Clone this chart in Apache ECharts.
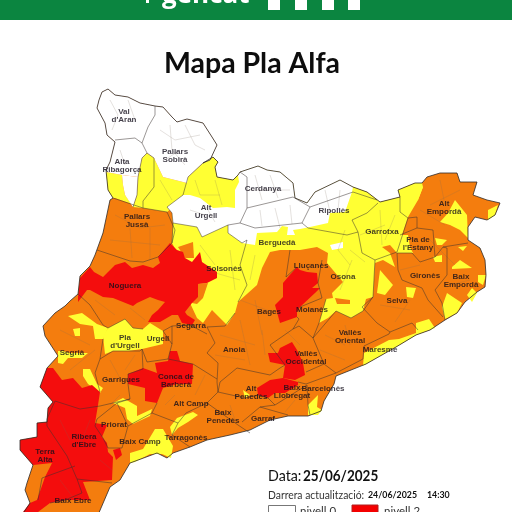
<!DOCTYPE html>
<html><head><meta charset="utf-8">
<style>html,body{margin:0;padding:0;background:#fff}#c{width:512px;height:512px}</style>
<script src="https://cdn.jsdelivr.net/npm/echarts@6/dist/echarts.min.js"></script>
</head><body><div id="c"></div>
<script>
const levelColors=['#ffffff','#ffff33','#f47d0e','#f40d0d'];
const regionNames=['Catalunya','Groc nord','Groc Ribagorça','Groc Pallars','Blanc nord-oest','Blanc Ribagorça','Blanc central','Blanc Osona','Llívia',
 'Groc Garrotxa','Blanc Empordà','Taronja Solsonès','Taronja Cardener','Groc Selva','Taronja Osona'];
const regionLevels=[2,1,1,1,0,0,0,0,0,1,0,2,2,1,2];
const regionShapes=[
 [[97,108],[99,100],[102,92],[108,89],[115,95],[128,97],[140,103],[155,106],[163,107],[172,117],[177,122],[187,119],[203,123],[212,137],[217,145],[210,160],[203,163],[213,157],[218,162],[215,167],[217,177],[233,180],[238,175],[240,172],[258,166],[267,170],[280,172],[293,183],[295,198],[307,203],[315,192],[340,180],[353,187],[367,192],[380,202],[400,197],[398,190],[415,183],[422,183],[427,177],[440,173],[457,173],[460,182],[477,182],[473,195],[487,200],[500,203],[495,215],[487,220],[475,217],[468,227],[468,240],[480,248],[485,260],[486,275],[485,287],[477,292],[465,302],[457,313],[445,320],[430,330],[416,335],[396,347],[366,364],[336,376],[334,384],[324,401],[321,411],[308,416],[288,416],[270,420],[250,430],[230,435],[207,440],[190,447],[173,453],[167,458],[157,453],[130,463],[120,480],[110,487],[98,515],[22,515],[30,503],[25,490],[27,483],[33,465],[20,450],[20,440],[37,437],[37,423],[47,422],[48,408],[53,402],[40,387],[47,368],[58,356],[45,336],[43,326],[55,313],[65,306],[70,301],[78,294],[80,276],[90,266],[95,255],[103,233],[110,200],[113,198],[108,190],[106,170],[110,162],[115,142],[107,135],[105,123]],
 [[172,213],[173,223],[172,243],[180,258],[190,303],[197,318],[203,323],[212,310],[227,325],[235,313],[238,302],[257,285],[262,268],[270,252],[280,250],[300,250],[317,247],[328,253],[327,263],[343,282],[332,293],[333,298],[326,299],[319,323],[328,318],[336,311],[351,318],[363,311],[366,299],[373,297],[375,263],[383,260],[395,267],[390,253],[382,247],[390,245],[397,253],[413,253],[410,247],[408,235],[402,235],[408,217],[418,200],[423,187],[422,183],[415,183],[398,190],[400,197],[380,202],[367,192],[353,187],[340,180],[315,192],[307,203],[295,198],[293,183],[280,172],[267,170],[258,166],[240,172],[238,175],[233,180],[217,177],[215,167],[218,162],[213,157],[203,163],[188,177],[183,195]],
 [[106,172],[122,175],[123,185],[125,195],[132,205],[143,208],[115,198],[113,198],[108,190]],
 [[142,158],[147,153],[154,158],[163,177],[187,183],[186,190],[178,203],[167,212],[143,208],[133,207],[137,195],[138,177]],
 [[97,108],[99,100],[102,92],[108,89],[115,95],[128,97],[140,103],[155,106],[163,107],[172,117],[177,122],[187,119],[203,123],[212,137],[217,145],[210,160],[203,163],[188,177],[187,183],[163,177],[154,158],[147,153],[142,158],[138,177],[122,175],[106,172],[106,170],[110,162],[115,142],[107,135],[105,123]],
 [[122,175],[138,177],[137,195],[133,207],[125,195],[123,185]],
 [[167,207],[183,195],[190,195],[200,198],[213,208],[227,207],[235,208],[235,190],[239,182],[238,175],[240,172],[258,166],[267,170],[280,172],[293,183],[295,198],[307,203],[315,192],[340,180],[353,187],[352,192],[345,212],[330,213],[328,223],[310,227],[300,229],[293,230],[295,235],[287,235],[288,227],[282,226],[277,232],[257,233],[255,245],[242,243],[228,233],[228,225],[202,237],[197,227],[173,223],[172,213]],
 [[330,245],[343,242],[343,248],[332,250]],
 [[294,172],[297,167],[301,172],[303,177],[297,178]],
 [[408,190],[423,187],[418,200],[408,204],[400,197]],
 [[455,216],[460,220],[461,229],[456,226]],
 [[178,247],[193,242],[194,258],[185,258]],
 [[198,284],[208,283],[203,298],[197,304],[192,303]],
 [[380,270],[393,285],[385,295],[377,293]],
 [[335,298],[350,300],[350,304],[337,304]]
];
const yellowNames=['Y Empordà','Y Creus','Y Estany 1','Y Estany 2','Y Empordà 2','Y Baix Empordà','Y Baix Empordà 2','Y Begur','Y Selva costa','Y Gironès','Y Maresme','Y Barcelonès','Y Penedès','Y Tarragonès','Y Baix Camp','Y Priorat','Y Urgell','Y Segrià 1','Y Segrià 2','Y Segrià 3','Y Garrigues'];
const yellowShapes=[
 [[455,200],[467,215],[468,238],[460,230],[450,225],[440,222],[448,213]],
 [[488,210],[498,205],[495,215],[488,220]],
 [[435,238],[447,240],[442,245],[437,245]],
 [[433,257],[442,255],[442,262],[435,262]],
 [[458,247],[467,246],[463,251]],
 [[452,267],[460,260],[472,268],[452,269]],
 [[478,275],[486,275],[483,285],[478,282]],
 [[472,288],[477,293],[472,302],[467,295]],
 [[447,293],[462,303],[457,313],[445,319],[442,307]],
 [[406,287],[416,288],[413,298],[407,297]],
 [[363,366],[364,353],[389,340],[399,339],[416,333],[416,323],[429,319],[435,328],[416,335],[396,347],[366,364]],
 [[308,405],[313,400],[318,395],[317,407],[322,410],[318,415],[308,415]],
 [[243,390],[250,395],[245,398]],
 [[177,418],[193,412],[198,415],[188,422],[178,428],[172,435],[170,427]],
 [[130,463],[130,453],[143,449],[155,429],[163,429],[173,446],[171,458],[162,454],[150,454],[135,462]],
 [[113,403],[123,398],[137,406],[137,416],[152,409],[150,416],[133,424],[127,419],[125,408]],
 [[103,336],[108,328],[125,319],[133,328],[143,329],[150,323],[163,331],[163,344],[142,349],[128,351],[113,351],[105,354]],
 [[68,316],[82,313],[97,324],[108,328],[103,339],[95,339],[93,326],[80,324]],
 [[73,329],[80,328],[80,336],[75,336]],
 [[58,351],[63,351],[70,353],[88,353],[82,358],[68,358],[63,364],[58,363]],
 [[83,369],[90,369],[97,384],[103,388],[100,393],[88,384],[83,376]]
];
const yellowLevels=yellowNames.map(()=>1);
const redNames=['R Noguera','R Sud','R Sud punt','R Conca','R Bages','R Vallès','R Llobregat'];
const redShapes=[
 [[78,297],[80,278],[90,267],[94,272],[103,277],[115,265],[125,262],[132,268],[143,265],[153,268],[160,263],[158,257],[170,243],[177,250],[183,252],[185,258],[192,262],[200,252],[202,262],[217,272],[217,278],[207,283],[198,284],[198,297],[192,303],[185,312],[187,315],[195,320],[192,325],[182,323],[178,315],[172,315],[160,322],[148,322],[152,315],[158,310],[165,302],[158,300],[150,297],[137,303],[133,306],[113,298],[103,297],[90,290],[87,290],[78,302]],
 [[47,368],[53,368],[62,380],[73,378],[82,388],[92,385],[100,392],[98,405],[95,423],[107,425],[102,437],[107,443],[108,452],[113,457],[112,480],[83,482],[90,500],[65,500],[50,503],[38,512],[23,512],[30,503],[37,500],[45,477],[52,463],[33,465],[20,450],[20,440],[37,437],[37,423],[47,422],[48,408],[53,402],[40,387]],
 [[113,450],[120,448],[122,455],[116,460]],
 [[128,374],[143,368],[157,373],[155,363],[168,361],[170,351],[177,351],[180,361],[193,364],[192,384],[177,384],[163,388],[157,403],[145,401],[145,388],[128,384]],
 [[288,277],[297,267],[300,270],[307,272],[317,273],[318,283],[312,288],[320,288],[315,293],[300,307],[297,312],[297,317],[280,323],[275,305],[283,297],[283,283]],
 [[280,348],[292,342],[297,350],[303,363],[305,375],[295,380],[283,378],[285,365],[270,362],[268,353],[278,353]],
 [[257,388],[270,380],[283,378],[298,382],[298,385],[285,393],[275,393],[268,398],[258,395]]
];
const redLevels=redNames.map(()=>3);
const comarcaBorders=[
 [[155,106],[155,115],[148,127],[142,143],[135,138],[115,140]],
 [[142,143],[147,153],[142,158],[138,177],[137,195],[133,207]],
 [[147,153],[154,158],[154,187],[143,201],[143,208]],
 [[203,163],[188,177],[183,195],[167,207],[172,213],[173,223],[172,243]],
 [[113,198],[143,208],[167,212],[175,230],[172,243],[158,257],[143,262],[130,261],[103,252],[97,250]],
 [[173,223],[197,227],[202,237],[228,225],[228,233],[242,243],[247,240]],
 [[240,172],[247,177],[247,208],[240,223],[228,225]],
 [[247,208],[293,197],[310,207],[302,223],[255,228],[240,223]],
 [[310,207],[353,192],[377,200]],
 [[302,223],[308,228],[347,235],[358,232],[352,220],[367,213],[378,203]],
 [[400,212],[408,218],[397,252],[375,260],[362,253],[358,232]],
 [[400,197],[400,212]],
 [[408,218],[417,217],[417,228],[433,230],[435,257],[443,247],[468,243]],
 [[400,235],[417,228]],
 [[435,257],[420,262],[412,253],[397,253],[398,270],[402,280],[422,288],[428,300],[443,317]],
 [[443,247],[447,248],[447,275],[435,290],[442,303],[445,320]],
 [[375,260],[373,297],[362,307],[377,323],[390,332],[412,323],[418,330]],
 [[313,338],[336,311],[351,318],[363,311],[373,297]],
 [[390,332],[389,334],[364,346],[363,359],[336,373],[324,364],[313,338]],
 [[313,338],[299,326],[293,329],[299,319],[297,317]],
 [[336,373],[306,384],[298,382]],
 [[324,364],[306,372]],
 [[326,299],[319,323],[313,338]],
 [[247,240],[240,265],[247,285],[238,302]],
 [[290,250],[286,277],[297,267]],
 [[322,260],[318,283],[322,298],[300,307]],
 [[207,327],[215,343],[207,353],[218,363],[217,382],[218,392],[207,403]],
 [[218,392],[220,382],[237,368],[270,375],[280,368],[285,365],[270,345],[293,329]],
 [[207,327],[225,326],[235,313]],
 [[207,403],[238,425],[250,433]],
 [[242,422],[260,407],[288,415]],
 [[260,407],[275,405],[268,398],[258,395],[245,398],[218,392]],
 [[275,405],[307,385],[308,405],[310,415]],
 [[78,294],[90,305],[103,325],[108,328],[125,319],[133,328],[143,329]],
 [[103,339],[100,359],[95,373],[100,392]],
 [[100,359],[113,351],[140,351],[142,349],[143,369]],
 [[143,369],[128,374],[128,384],[130,399],[100,406]],
 [[142,349],[147,362],[168,359],[172,344],[163,331],[172,326],[190,325],[207,334]],
 [[168,359],[193,364],[217,379]],
 [[172,326],[172,344]],
 [[157,403],[152,413],[178,423],[186,413],[207,403]],
 [[178,423],[172,435],[190,447]],
 [[130,399],[117,403],[97,419],[95,426],[103,438],[108,448],[122,448],[128,426],[117,403]],
 [[128,426],[152,413]],
 [[47,419],[55,401],[80,409],[100,406]],
 [[47,426],[67,456],[77,479],[112,483]],
 [[47,426],[47,419]],
 [[75,466],[42,478],[38,500]],
 [[77,479],[82,493],[65,500],[50,503]]
];
const municipalBorders=[
 [[110,100],[118,115],[112,130]],[[128,100],[135,120]],[[170,125],[172,150],[185,165]],[[185,125],[195,145],[205,150]],[[160,130],[175,140],[200,135]],[[180,150],[165,160]],
 [[120,150],[125,165]],[[160,180],[172,200]],[[195,180],[200,195],[220,195]],[[215,180],[222,205]],[[205,205],[215,222]],[[190,210],[205,215]],
 [[255,175],[262,200]],[[270,175],[278,198]],[[248,190],[290,190]],[[260,210],[262,226]],[[275,208],[280,228]],[[290,205],[292,224]],[[325,190],[330,212]],[[340,190],[338,210]],
 [[200,245],[215,265]],[[230,250],[235,290]],[[205,270],[240,280]],[[255,255],[250,280]],[[345,230],[338,250],[350,265]],[[350,250],[365,262]],[[360,235],[385,225]],[[380,210],[382,245]],[[395,215],[385,240]],[[340,290],[352,260]],
 [[115,215],[140,228],[165,225]],[[130,228],[132,258]],[[150,228],[150,260]],[[110,240],[160,245]],
 [[95,300],[115,315]],[[130,308],[145,320]],[[60,330],[90,345]],[[70,370],[95,350]],[[110,360],[120,378]],[[135,355],[125,370]],
 [[220,335],[255,345]],[[240,320],[250,365]],[[262,330],[265,355]],[[215,355],[245,360]],[[255,300],[262,335]],[[240,300],[280,315]],[[285,330],[300,345]],
 [[325,335],[345,345]],[[345,325],[350,345]],[[320,350],[345,360]],[[400,270],[420,265]],[[430,240],[455,265]],[[440,180],[445,205]],[[460,190],[430,205]],[[420,210],[445,225]],[[450,285],[470,280]],[[410,300],[395,322]],[[380,305],[410,310]],
 [[60,480],[75,500]],[[90,420],[80,445]],[[60,420],[70,440]],[[110,405],[120,395]],[[165,405],[175,395]],[[195,395],[205,375]],[[230,405],[235,420]],[[295,400],[285,412]],[[100,460],[112,470]]
];
const labelNames=["Val\nd'Aran","Pallars\nSobirà","Alta\nRibagorça","Cerdanya","Alt\nUrgell","Pallars\nJussà","Ripollès","Berguedà","Garrotxa","Pla de\nl'Estany","Alt\nEmpordà","Noguera","Solsonès","Lluçanès","Osona","Gironès","Baix\nEmpordà","Selva","Bages","Moianès","Segarra","Pla\nd'Urgell","Urgell","Segrià","Anoia","Vallès\nOriental","Maresme","Vallès\nOccidental","Garrigues","Conca de\nBarberà","Alt Camp","Alt\nPenedès","Baix\nLlobregat","Barcelonès","Baix\nPenedès","Priorat","Baix Camp","Tarragonès","Garraf","Ribera\nd'Ebre","Terra\nAlta","Baix Ebre"];
const labelPoints=[[124,116],[175,156],[122,166],[263,189],[206,212],[137,221],[334,211],[277,243],[382,232],[418,244],[444,208],[125,286],[224,269],[311,266],[343,277],[425,276],[461,281],[397,301],[269,312],[312,310],[191,326],[125,342],[158,339],[72,353],[234,350],[350,337],[380,350],[306,358],[121,380],[176,381],[191,404],[251,393],[292,392],[323,389],[223,417],[114,425],[140,442],[186,438],[263,419],[84,441],[45,456],[73,501]];

const allNames=[...regionNames,...yellowNames,...redNames];
const allLevels=[...regionLevels,...yellowLevels,...redLevels];
const allShapes=[...regionShapes,...yellowShapes,...redShapes];
const geoJson={type:'FeatureCollection',features:allNames.map((n,i)=>({type:'Feature',properties:{name:n},geometry:{type:'Polygon',coordinates:[allShapes[i]]}}))};
echarts.registerMap('cat',geoJson);
const identity=p=>[p[0],p[1]];
const chart=echarts.init(document.getElementById('c'),null,{renderer:'canvas',width:512,height:512});
const outline=regionShapes[0].concat([regionShapes[0][0]]);
const font='"Liberation Sans",Arial,sans-serif', lato='Lato,"Open Sans",sans-serif';
const txt=(x,y,t,size,weight,sx,fill)=>({type:'text',x,y,scaleX:sx||1,silent:true,style:{text:t,fontSize:size,fontWeight:weight,fontFamily:lato,fill:fill||'#111',textVerticalAlign:'middle'}});
const rect=(x,y,w,h,fill,stroke)=>({type:'rect',silent:true,shape:{x,y,width:w,height:h},style:{fill,stroke:stroke||null,lineWidth:stroke?1:0}});
chart.setOption({
 animation:false,backgroundColor:'#fff',
 geo:{map:'cat',silent:true,roam:false,projection:{project:identity,unproject:identity},boundingCoords:[[0,0],[512,512]],layoutCenter:['50%','50%'],layoutSize:512,
  itemStyle:{borderWidth:0,borderColor:'transparent',areaColor:'#f47d0e'},label:{show:false},emphasis:{disabled:true}},
 visualMap:{show:false,type:'piecewise',seriesIndex:0,pieces:levelColors.map((c,i)=>({value:i,color:c}))},
 series:[
  {type:'map',geoIndex:0,silent:true,data:allNames.map((n,i)=>({name:n,value:allLevels[i]}))},
  {type:'lines',coordinateSystem:'geo',polyline:true,silent:true,z:3,lineStyle:{color:'#7a6a5a',width:.5,opacity:.4,curveness:0},data:municipalBorders.map(c=>({coords:c}))},
  {type:'lines',coordinateSystem:'geo',polyline:true,silent:true,z:4,lineStyle:{color:'#3a3230',width:.6,opacity:.85,curveness:0},data:comarcaBorders.map(c=>({coords:c}))},
  {type:'lines',coordinateSystem:'geo',polyline:true,silent:true,z:5,lineStyle:{color:'#2e2a28',width:.8,opacity:1,curveness:0},data:[{coords:outline}]},
  {type:'scatter',coordinateSystem:'geo',silent:true,z:6,symbolSize:1,itemStyle:{color:'transparent'},
   label:{show:true,position:'inside',formatter:p=>p.name,fontFamily:font,fontWeight:'bold',fontSize:8,lineHeight:8.5,color:'#140f1c',align:'center',verticalAlign:'middle'},
   data:labelNames.map((n,i)=>({name:n,value:labelPoints[i]}))}
 ],
 graphic:{elements:[
  rect(0,0,512,20,'#0b8540'),
  rect(146,0,3,3,'#fff'),
  rect(268,0,12,10,'#fff'),rect(295,0,12,10,'#fff'),rect(322,0,12,10,'#fff'),rect(348,0,12,10,'#fff'),
  {type:'text',x:162,y:9,silent:true,style:{text:'gencat',fontSize:26,fontWeight:'bold',fontFamily:'"Open Sans",sans-serif',fill:'#fff',textVerticalAlign:'bottom'}},
  {type:'text',x:252,y:64,silent:true,style:{text:'Mapa Pla Alfa',fontSize:28.5,fontWeight:'bold',fontFamily:lato,fill:'#0d0d0d',textAlign:'center',textVerticalAlign:'middle'}},
  txt(268,476,'Data:',15,'normal',.95),
  txt(303,476,'25/06/2025',15,'bold',.9),
  txt(268,495,'Darrera actualització:',11.5,'normal',.9,'#333'),
  txt(368,495,'24/06/2025',10,'bold',.88),
  txt(427,495,'14:30',10,'bold',.88),
  rect(268.5,505.5,27,10,'#fff','#777'),
  rect(352,505,26,10,'#f40000','#b02020'),
  txt(300,511,'nivell 0',11.5,'normal',1,'#333'),
  txt(384,511,'nivell 2',11.5,'normal',1,'#333')
 ]}
});
</script></body></html>
